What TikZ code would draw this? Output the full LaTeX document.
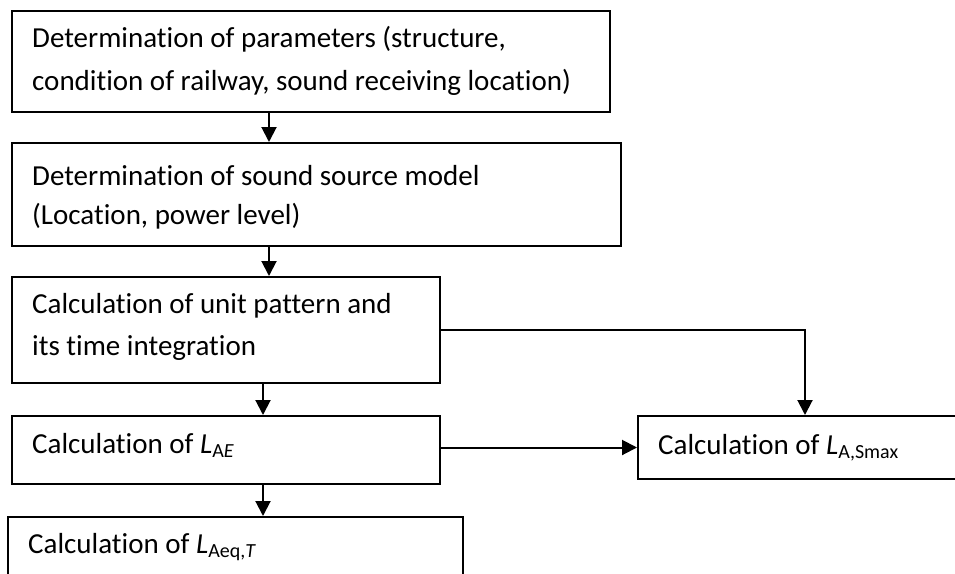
\documentclass[tikz,border=0pt]{standalone}
\usepackage{fontspec}
\setmainfont{Carlito}[Ligatures=NoCommon]
\usetikzlibrary{arrows.meta}
\tikzset{
  box/.style={draw, line width=2pt, rectangle, inner sep=0pt, anchor=north west},
  txt/.style={anchor=base west, inner sep=0pt, font=\fontsize{29}{34}\selectfont},
  arr/.style={line width=2pt, -{Triangle[width=15pt,length=15pt]}},
}
\newcommand{\sub}[1]{\raisebox{-0.16em}{\fontsize{20}{24}\selectfont #1}}
\begin{document}
\begin{tikzpicture}[x=1pt,y=-1pt]
  \clip (0,0) rectangle (955,573);
  \fill[white] (0,0) rectangle (955,573);

  % boxes
  \node[box, minimum width=598pt, minimum height=101pt] (b1) at (11,10) {};
  \node[box, minimum width=609pt, minimum height=103pt] (b2) at (11,142) {};
  \node[box, minimum width=428pt, minimum height=106pt] (b3) at (11,276) {};
  \node[box, minimum width=428pt, minimum height=68pt]  (b4) at (11,415) {};
  \node[box, minimum width=455pt, minimum height=90pt]  (b5) at (7,516) {};
  \node[box, minimum width=340pt, minimum height=63pt]  (bs) at (637,415) {};

  % texts
  \node[txt] (t1a) at (32,47)  {Determination of parameters (structure,};
  \node[txt] (t1b) at (32,90)  {condition of railway, sound receiving location)};
  \node[txt] (t2a) at (32,185) {Determination of sound source model};
  \node[txt] (t2b) at (32,224) {(Location, power level)};
  \node[txt] (t3a) at (32,313) {Calculation of unit pattern and};
  \node[txt] (t3b) at (32,355) {its time integration};
  \node[txt] (t4)  at (32,453) {Calculation of \textit{L}\sub{A\textit{E}}};
  \node[txt] (t5)  at (28,553) {Calculation of \textit{L}\sub{Aeq,\textit{T}}};
  \node[txt] (ts)  at (658,454) {Calculation of \textit{L}\sub{A,Smax}};

  % connector columns
  \coordinate (c1) at (269,0);
  \coordinate (c2) at (263,0);
  \coordinate (c3) at (805,0);

  % connectors
  \draw[arr] (c1 |- b1.south) -- (c1 |- b2.north);
  \draw[arr] (c1 |- b2.south) -- (c1 |- b3.north);
  \draw[arr] (c2 |- b3.south) -- (c2 |- b4.north);
  \draw[arr] (c2 |- b4.south) -- (c2 |- b5.north);
  \draw[arr] (b3.east) -- (c3 |- b3.east) -- (c3 |- bs.north);
  \draw[arr] (b4.east |- bs.west) -- (bs.west);
\end{tikzpicture}
\end{document}
